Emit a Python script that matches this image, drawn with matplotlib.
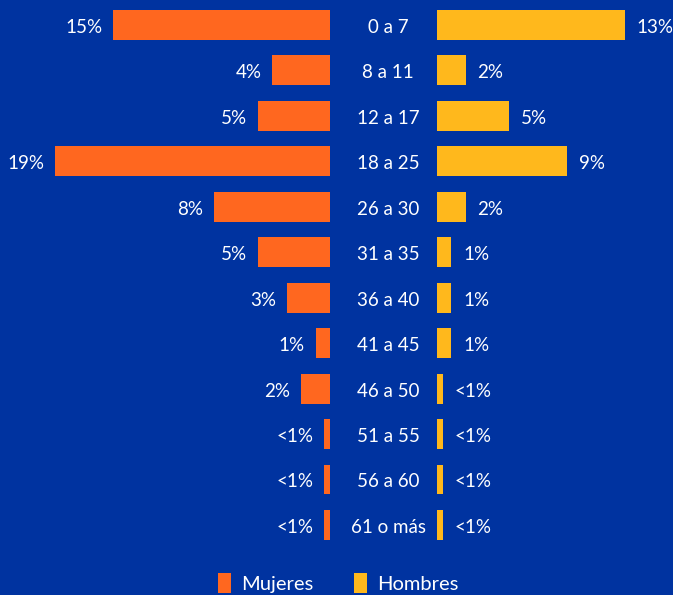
import matplotlib
matplotlib.use("Agg")
import matplotlib.pyplot as plt
from matplotlib.patches import Patch

categories = ["0 a 7", "8 a 11", "12 a 17", "18 a 25", "26 a 30", "31 a 35",
              "36 a 40", "41 a 45", "46 a 50", "51 a 55", "56 a 60", "61 o más"]
mujeres = [15, 4, 5, 19, 8, 5, 3, 1, 2, 0.4, 0.4, 0.4]
hombres = [13, 2, 5, 9, 2, 1, 1, 1, 0.4, 0.4, 0.4, 0.4]
mujeres_labels = ["15%", "4%", "5%", "19%", "8%", "5%", "3%", "1%", "2%", "<1%", "<1%", "<1%"]
hombres_labels = ["13%", "2%", "5%", "9%", "2%", "1%", "1%", "1%", "<1%", "<1%", "<1%", "<1%"]

BG = "#0033a0"
ORANGE = "#ff671f"
YELLOW = "#ffb81c"
FONT = "Lato"
FS = 13.5

W, H = 673, 595
fig = plt.figure(figsize=(W / 100, H / 100), dpi=100, facecolor=BG)
ax = fig.add_axes([0, 0, 1, 1])
ax.set_facecolor(BG)

px = 14.45          # pixels per percent
center = 383.5
gap = 53.5 / px
ax.set_xlim(-center / px, (W - center) / px)
row = 45.45
ax.set_ylim((H - 25) / row, -25 / row)

y = list(range(len(categories)))
ax.barh(y, [-v for v in mujeres], left=-gap, height=0.66, color=ORANGE)
ax.barh(y, hombres, left=gap, height=0.66, color=YELLOW)

dy = 2.5 / row
for i, cat in enumerate(categories):
    ax.text(4.5 / px, i + dy, cat, ha="center", va="center", color="white",
            fontsize=FS, family=FONT)
    ax.text(-gap - mujeres[i] - 0.75, i + dy, mujeres_labels[i], ha="right", va="center",
            color="white", fontsize=FS, family=FONT)
    ax.text(gap + hombres[i] + 0.8, i + dy, hombres_labels[i], ha="left", va="center",
            color="white", fontsize=FS, family=FONT)

ax.axis("off")

handles = [Patch(facecolor=ORANGE, label="Mujeres"), Patch(facecolor=YELLOW, label="Hombres")]
fig.legend(handles=handles, loc="center", bbox_to_anchor=(338 / W, 1 - 583 / H),
           ncol=2, frameon=False, prop={"family": FONT, "size": 14.5},
           labelcolor="white", handlelength=0.65, handleheight=1.1,
           handletextpad=0.5, columnspacing=2.0)

fig.savefig("out.png", dpi=100, facecolor=BG)
